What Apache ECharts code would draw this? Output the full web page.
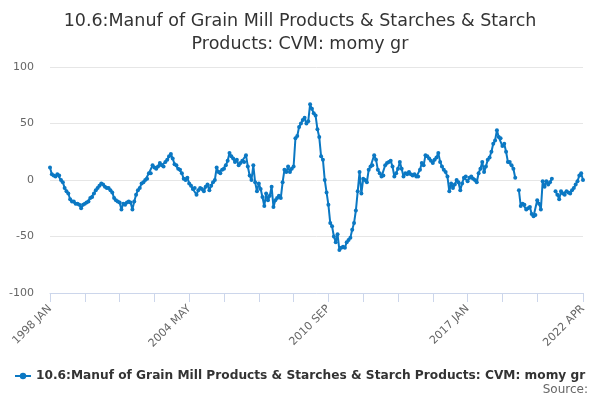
<!DOCTYPE html>
<html>
<head>
<meta charset="utf-8">
<script src="https://cdn.jsdelivr.net/npm/echarts@6/dist/echarts.min.js"></script>
<style>
    html, body { margin: 0; padding: 0; background: #fff; }
    #chart { width: 600px; height: 400px; }
</style>
</head>
<body>
<div id="chart"></div>
<script>
const titleText = "10.6:Manuf of Grain Mill Products & Starches & Starch\nProducts: CVM: momy gr"
const seriesName = "10.6:Manuf of Grain Mill Products & Starches & Starch Products: CVM: momy gr"
const months = ["JAN", "FEB", "MAR", "APR", "MAY", "JUN", "JUL", "AUG", "SEP", "OCT", "NOV", "DEC"]
const firstYear = 1998
const lastYear = 2022
const lastMonth = 4
const yTicks = [-100, -50, 0, 50, 100]

// monthly values, one row per year
const values = [
    11, 5, 4, 3, 5, 4, 0, -2, -7, -10, -12, -17,
    -19, -19, -21, -21, -22, -25, -22, -21, -20, -19, -16, -15,
    -12, -9, -7, -5, -3, -4, -6, -7, -7, -9, -11, -16,
    -18, -19, -20, -26, -21, -22, -20, -19, -20, -26, -19, -13,
    -9, -7, -3, -2, 0, 1, 6, 6, 13, 11, 10, 12,
    15, 13, 12, 16, 18, 21, 23, 19, 14, 13, 10, 9,
    6, 1, 0, 2, -3, -5, -8, -7, -13, -9, -7, -8,
    -10, -6, -4, -9, -5, -2, 0, 11, 7, 6, 9, 10,
    13, 17, 24, 21, 19, 16, 18, 13, 15, 17, 16, 22,
    12, 4, 0, 13, -2, -10, -3, -8, -15, -23, -12, -18,
    -14, -6, -24, -18, -16, -14, -16, -2, 9, 7, 12, 7,
    10, 12, 37, 39, 47, 50, 53, 55, 50, 52, 67, 63,
    59, 57, 45, 38, 21, 18, 0, -11, -22, -38, -41, -50,
    -55, -48, -62, -60, -59, -60, -55, -53, -51, -44, -38, -27,
    -10, 7, -12, 1, 0, -2, 9, 12, 13, 22, 18, 9,
    6, 3, 4, 13, 15, 16, 17, 12, 3, 6, 10, 16,
    10, 3, 6, 5, 7, 5, 4, 5, 3, 3, 9, 15,
    13, 22, 21, 19, 17, 15, 18, 20, 24, 16, 12, 9,
    7, 3, -10, -3, -7, -4, 0, -2, -9, -3, 2, 3,
    -1, 2, 3, 1, 0, -2, 6, 10, 16, 7, 12, 18,
    20, 25, 32, 35, 44, 38, 37, 30, 32, 25, 16, 16,
    13, 10, 2, null, -9, -23, -21, -22, -26, -25, -24, -30,
    -32, -31, -18, -21, -26, -1, -6, -1, -4, -2, 1, null,
    -10, -13, -17, -10, -12, -13, -10, -11, -12, -9, -7, -4,
    -1, 4, 6, 0
]

let categories = []
for (let y = firstYear; y <= lastYear; y++) {
    for (let m = 0; m < 12; m++) {
        if (y === lastYear && m >= lastMonth) break
        categories.push(`${y} ${months[m]}`)
    }
}
const lastIndex = categories.length - 1

let chart = echarts.init(document.getElementById("chart"))
let option = {
    animation: false,
    textStyle: { fontFamily: "DejaVu Sans" },
    title: {
        text: titleText,
        left: "center",
        top: 5,
        textStyle: { fontSize: 17.5, fontWeight: "normal", color: "#333333", lineHeight: 23 }
    },
    grid: { left: 50, right: 17, top: 67, bottom: 107, containLabel: false },
    legend: {
        left: 9,
        top: 365,
        itemWidth: 16,
        itemHeight: 8,
        itemGap: 0,
        textStyle: { fontSize: 12.2, fontWeight: "bold", color: "#333333" },
        data: [seriesName]
    },
    graphic: [{
        type: "text",
        right: 12,
        top: 384,
        style: { text: "Source:", fill: "#666666", font: "12px DejaVu Sans" }
    }],
    xAxis: {
        type: "category",
        data: categories,
        boundaryGap: false,
        axisLine: { onZero: false, lineStyle: { color: "#ccd6eb" } },
        axisTick: {
            length: 9,
            lineStyle: { color: "#ccd6eb" },
            interval: (i) => (i % 19 === 0 && i < lastIndex - 10) || i === lastIndex
        },
        axisLabel: {
            rotate: 45,
            color: "#666666",
            fontSize: 11,
            margin: 14,
            interval: (i) => i % 76 === 0 || i === lastIndex
        },
        splitLine: { show: false }
    },
    yAxis: {
        type: "value",
        min: yTicks[0],
        max: yTicks[yTicks.length - 1],
        interval: 50,
        axisLine: { show: false },
        axisTick: { show: false },
        axisLabel: { color: "#666666", fontSize: 11, margin: 16 },
        splitLine: { lineStyle: { color: "#e6e6e6" } }
    },
    series: [{
        name: seriesName,
        type: "line",
        data: values,
        connectNulls: false,
        symbol: "circle",
        symbolSize: 4,
        showAllSymbol: true,
        color: "#0b78c3",
        lineStyle: { width: 2, color: "#0b78c3" },
        itemStyle: { color: "#0b78c3" }
    }]
}
chart.setOption(option)
</script>
</body>
</html>
